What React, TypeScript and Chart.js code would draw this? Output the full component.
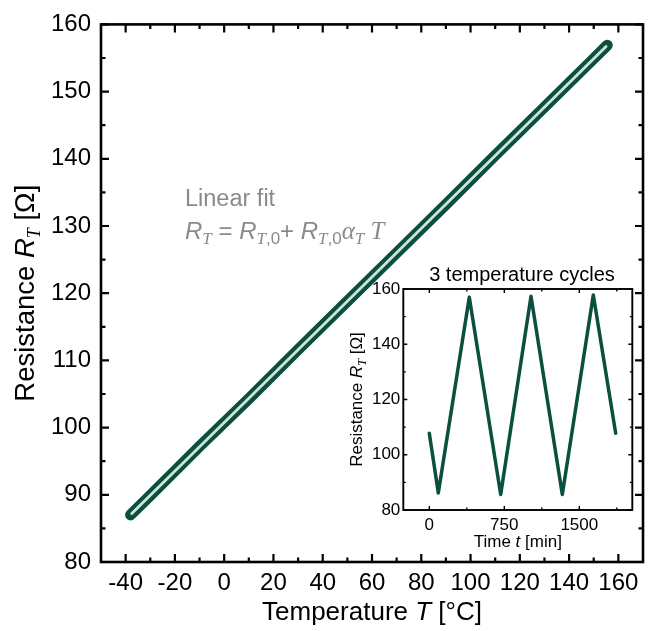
import React, { useEffect, useRef } from "react";
import { Chart, registerables } from "chart.js";

Chart.register(...registerables);

// ---- Main chart data (temperature sweep) ----
const MEAS_T = [-38, -30, -10, 10, 30, 50, 70, 90, 110, 130, 150, 155.5];
const MEAS_R = [87.0, 89.9, 97.2, 104.3, 111.6, 118.8, 126.0, 133.2, 140.5, 147.7, 154.9, 156.9];
const FIT_T = [-37.5, 155];
const FIT_R = [87.2, 156.7];

const X_TICKS = [-40, -20, 0, 20, 40, 60, 80, 100, 120, 140, 160];
const X_MINOR = [-30, -10, 10, 30, 50, 70, 90, 110, 130, 150];
const Y_TICKS = [80, 90, 100, 110, 120, 130, 140, 150, 160];
const Y_MINOR = [85, 95, 105, 115, 125, 135, 145, 155];

// ---- Inset data (3 temperature cycles) ----
const CYCLE_TIME = [0, 90, 400, 714, 1017, 1330, 1640, 1864];
const CYCLE_R = [107.8, 86.2, 157.0, 85.6, 157.4, 85.6, 157.8, 107.8];
const INSET_X_TICKS = [0, 750, 1500];
const INSET_X_MINOR = [375, 1125, 1875];
const INSET_Y_TICKS = [80, 100, 120, 140, 160];
const INSET_Y_MINOR = [90, 110, 130, 150];

const SANS = '"Liberation Sans", Arial, sans-serif';
const SERIF = '"Liberation Serif", "Times New Roman", serif';
const GREEN = "#0b4f3f";
const FIT_COLOR = "#cfe3d8";
const GRAY = "#8a8a8a";

type Run = { t: string; f: string; dy?: number };

function drawRuns(ctx: CanvasRenderingContext2D, runs: Run[], x: number, y: number, align: "left" | "center", color: string) {
  ctx.textBaseline = "alphabetic";
  ctx.textAlign = "left";
  ctx.fillStyle = color;
  const widths = runs.map((r) => {
    ctx.font = r.f;
    return ctx.measureText(r.t).width;
  });
  const total = widths.reduce((a, b) => a + b, 0);
  let cx = align === "center" ? x - total / 2 : x;
  runs.forEach((r, i) => {
    ctx.font = r.f;
    ctx.fillText(r.t, cx, y + (r.dy || 0));
    cx += widths[i];
  });
}

type FrameCfg = {
  xMajor: number[]; xMinor: number[]; yMajor: number[]; yMinor: number[];
  majorLen: number; minorLen: number; frameWidth: number; tickWidth: number;
};

function drawFrame(chart: any, cfg: FrameCfg) {
  const ctx: CanvasRenderingContext2D = chart.ctx;
  const { left, right, top, bottom } = chart.chartArea;
  const xs = chart.scales.x;
  const ys = chart.scales.y;
  ctx.save();
  ctx.strokeStyle = "#000";
  ctx.lineCap = "butt";
  ctx.lineWidth = cfg.tickWidth;
  ctx.beginPath();
  const xt = (vals: number[], len: number) => vals.forEach((v) => {
    const p = xs.getPixelForValue(v);
    ctx.moveTo(p, bottom); ctx.lineTo(p, bottom - len);
    ctx.moveTo(p, top); ctx.lineTo(p, top + len);
  });
  const yt = (vals: number[], len: number) => vals.forEach((v) => {
    const p = ys.getPixelForValue(v);
    ctx.moveTo(left, p); ctx.lineTo(left + len, p);
    ctx.moveTo(right, p); ctx.lineTo(right - len, p);
  });
  xt(cfg.xMajor, cfg.majorLen);
  xt(cfg.xMinor, cfg.minorLen);
  yt(cfg.yMajor, cfg.majorLen);
  yt(cfg.yMinor, cfg.minorLen);
  ctx.stroke();
  ctx.lineWidth = cfg.frameWidth;
  ctx.lineJoin = "miter";
  ctx.strokeRect(left, top, right - left, bottom - top);
  ctx.restore();
}

export default function App() {
  const mainRef = useRef<HTMLCanvasElement>(null);
  const insetRef = useRef<HTMLCanvasElement>(null);

  useEffect(() => {
    if (!mainRef.current || !insetRef.current) return;

    const mainPlugin = {
      id: "mainDecor",
      afterDraw(chart: any) {
        drawFrame(chart, {
          xMajor: X_TICKS, xMinor: X_MINOR, yMajor: Y_TICKS, yMinor: Y_MINOR,
          majorLen: 8, minorLen: 4.5, frameWidth: 2.6, tickWidth: 2.2,
        });
        const ctx: CanvasRenderingContext2D = chart.ctx;
        const { left, right, top, bottom } = chart.chartArea;
        ctx.save();
        // x title
        drawRuns(ctx, [
          { t: "Temperature ", f: `26px ${SANS}` },
          { t: "T", f: `italic 26px ${SANS}` },
          { t: " [°C]", f: `26px ${SANS}` },
        ], (left + right) / 2, 620, "center", "#000");
        // y title
        ctx.save();
        ctx.translate(34, (top + bottom) / 2);
        ctx.rotate(-Math.PI / 2);
        drawRuns(ctx, [
          { t: "Resistance ", f: `27.5px ${SANS}` },
          { t: "R", f: `italic 27.5px ${SANS}` },
          { t: "T", f: `italic 18px ${SERIF}`, dy: 6 },
          { t: " [Ω]", f: `27.5px ${SANS}` },
        ], 0, 0, "center", "#000");
        ctx.restore();
        // annotation
        drawRuns(ctx, [{ t: "Linear fit", f: `23.5px ${SANS}` }], 185, 206, "left", GRAY);
        drawRuns(ctx, [
          { t: "R", f: `italic 24px ${SANS}` },
          { t: "T", f: `italic 17px ${SERIF}`, dy: 5 },
          { t: " = ", f: `24px ${SANS}` },
          { t: "R", f: `italic 24px ${SANS}` },
          { t: "T", f: `italic 17px ${SERIF}`, dy: 5 },
          { t: ",0", f: `17px ${SANS}`, dy: 5 },
          { t: "+ ", f: `24px ${SANS}` },
          { t: "R", f: `italic 24px ${SANS}` },
          { t: "T", f: `italic 17px ${SERIF}`, dy: 5 },
          { t: ",0", f: `17px ${SANS}`, dy: 5 },
          { t: "α", f: `italic 25px ${SERIF}` },
          { t: "T", f: `italic 17px ${SERIF}`, dy: 5 },
          { t: " T", f: `italic 25px ${SERIF}` },
        ], 185, 239, "left", GRAY);
        ctx.restore();
      },
    };

    const main = new Chart(mainRef.current, {
      type: "scatter",
      data: {
        datasets: [
          {
            label: "fit",
            data: FIT_T.map((t, i) => ({ x: t, y: FIT_R[i] })),
            showLine: true,
            borderColor: FIT_COLOR,
            borderWidth: 2.8,
            borderCapStyle: "round",
            pointRadius: 0,
            order: 0,
          },
          {
            label: "measurement",
            data: MEAS_T.map((t, i) => ({ x: t, y: MEAS_R[i] })),
            showLine: true,
            borderColor: GREEN,
            borderWidth: 11,
            borderCapStyle: "round",
            borderJoinStyle: "round",
            pointRadius: 0,
            order: 1,
          },
        ],
      } as any,
      options: {
        responsive: false,
        devicePixelRatio: 1,
        animation: false,
        layout: { padding: { left: 0, top: 19.5, right: 8, bottom: 0 } },
        plugins: { legend: { display: false }, tooltip: { enabled: false } },
        scales: {
          x: {
            type: "linear",
            min: -50,
            max: 170,
            grid: { display: false, drawTicks: false },
            border: { display: false },
            afterBuildTicks: (s: any) => { s.ticks = X_TICKS.map((v) => ({ value: v })); },
            afterFit: (s: any) => { s.height = 69; },
            ticks: { color: "#000", font: { family: SANS, size: 24 }, padding: 7, maxRotation: 0, autoSkip: false, callback: (v: any) => String(v) },
          },
          y: {
            type: "linear",
            min: 80,
            max: 160,
            grid: { display: false, drawTicks: false },
            border: { display: false },
            afterBuildTicks: (s: any) => { s.ticks = Y_TICKS.map((v) => ({ value: v })); },
            afterFit: (s: any) => { s.width = 101; },
            ticks: { color: "#000", font: { family: SANS, size: 24 }, padding: 10, autoSkip: false, callback: (v: any) => String(v) },
          },
        },
      } as any,
      plugins: [mainPlugin],
    });

    const insetPlugin = {
      id: "insetDecor",
      afterDraw(chart: any) {
        drawFrame(chart, {
          xMajor: INSET_X_TICKS, xMinor: INSET_X_MINOR, yMajor: INSET_Y_TICKS, yMinor: INSET_Y_MINOR,
          majorLen: 4, minorLen: 2.5, frameWidth: 1.9, tickWidth: 1.4,
        });
        const ctx: CanvasRenderingContext2D = chart.ctx;
        const { left, right, top, bottom } = chart.chartArea;
        ctx.save();
        drawRuns(ctx, [{ t: "3 temperature cycles", f: `20px ${SANS}` }], 522, 281, "center", "#000");
        drawRuns(ctx, [
          { t: "Time ", f: `17px ${SANS}` },
          { t: "t", f: `italic 17px ${SANS}` },
          { t: " [min]", f: `17px ${SANS}` },
        ], (left + right) / 2, 547, "center", "#000");
        ctx.save();
        ctx.translate(362, (top + bottom) / 2);
        ctx.rotate(-Math.PI / 2);
        drawRuns(ctx, [
          { t: "Resistance ", f: `17px ${SANS}` },
          { t: "R", f: `italic 17px ${SANS}` },
          { t: "T", f: `italic 12px ${SERIF}`, dy: 4 },
          { t: " [Ω]", f: `17px ${SANS}` },
        ], 0, 0, "center", "#000");
        ctx.restore();
        ctx.restore();
      },
    };

    const inset = new Chart(insetRef.current, {
      type: "scatter",
      data: {
        datasets: [
          {
            label: "cycles",
            data: CYCLE_TIME.map((t, i) => ({ x: t, y: CYCLE_R[i] })),
            showLine: true,
            borderColor: GREEN,
            borderWidth: 3.5,
            borderCapStyle: "round",
            borderJoinStyle: "round",
            pointRadius: 0,
          },
        ],
      } as any,
      options: {
        responsive: false,
        devicePixelRatio: 1,
        animation: false,
        layout: { padding: { left: 0, top: 289, right: 18.7, bottom: 0 } },
        plugins: { legend: { display: false }, tooltip: { enabled: false } },
        scales: {
          x: {
            type: "linear",
            min: -260,
            max: 2030,
            grid: { display: false, drawTicks: false },
            border: { display: false },
            afterBuildTicks: (s: any) => { s.ticks = INSET_X_TICKS.map((v) => ({ value: v })); },
            afterFit: (s: any) => { s.height = 121; },
            ticks: { color: "#000", font: { family: SANS, size: 17 }, padding: 5, maxRotation: 0, autoSkip: false, callback: (v: any) => String(v) },
          },
          y: {
            type: "linear",
            min: 80,
            max: 160,
            grid: { display: false, drawTicks: false },
            border: { display: false },
            afterBuildTicks: (s: any) => { s.ticks = INSET_Y_TICKS.map((v) => ({ value: v })); },
            afterFit: (s: any) => { s.width = 403.3; },
            ticks: { color: "#000", font: { family: SANS, size: 17 }, padding: 3, autoSkip: false, callback: (v: any) => String(v) },
          },
        },
      } as any,
      plugins: [insetPlugin],
    });

    return () => {
      main.destroy();
      inset.destroy();
    };
  }, []);

  return (
    <div style={{ position: "fixed", left: 0, top: 0, width: 651, height: 631, background: "#fff" }}>
      <canvas ref={mainRef} width={651} height={631} style={{ position: "absolute", left: 0, top: 0, width: 651, height: 631 }} />
      <canvas ref={insetRef} width={651} height={631} style={{ position: "absolute", left: 0, top: 0, width: 651, height: 631 }} />
    </div>
  );
}
